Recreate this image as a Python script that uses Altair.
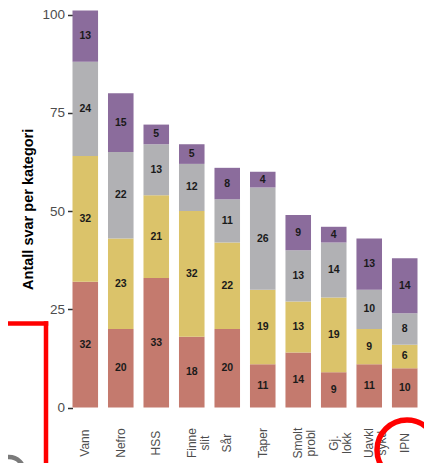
import altair as alt
import pandas as pd

categories = ["Vann", "Nefro", "HSS", "Finne\nslit", "Sår", "Taper",
              "Smolt\nprobl", "Gj.\nlokk", "Uavkl\nsykd", "IPN"]
series = ["Serie 1", "Serie 2", "Serie 3", "Serie 4"]
s1 = [32, 20, 33, 18, 20, 11, 14, 9, 11, 10]
s2 = [32, 23, 21, 32, 22, 19, 13, 19, 9, 6]
s3 = [24, 22, 13, 12, 11, 26, 13, 14, 10, 8]
s4 = [13, 15, 5, 5, 8, 4, 9, 4, 13, 14]
colors = ["#c47a6e", "#dbc36a", "#b1b1b4", "#8b6c9c"]
y_ticks = [0, 25, 50, 75, 100]

rows = []
for k, (name, vals) in enumerate(zip(series, [s1, s2, s3, s4])):
    for c, v in zip(categories, vals):
        rows.append({"cat": c, "series": name, "value": v, "ord": k})
df = pd.DataFrame(rows)

FONT = "Liberation Sans"

x_enc = alt.X(
    "cat:N", sort=categories, title=None,
    scale=alt.Scale(paddingInner=0.28, paddingOuter=0),
    axis=alt.Axis(labelAngle=270, labelAlign="center", labelBaseline="middle",
                  labelPadding=35, ticks=False, domain=False,
                  labelExpr="split(datum.label, '\\n')",
                  labelFont=FONT, labelFontSize=12, labelColor="#4d4d4d",
                  labelLineHeight=13),
)
y_scale = alt.Scale(domain=[0, 101.15], nice=False)

base = alt.Chart(df)
bars = base.mark_bar().encode(
    x=x_enc,
    y=alt.Y("value:Q", stack="zero", scale=y_scale,
            title="Antall svar per kategori",
            axis=alt.Axis(values=y_ticks, grid=False, domain=False,
                          tickColor="#333333", tickSize=5, tickWidth=1.5,
                          labelFont=FONT, labelFontSize=13.5, labelColor="#4d4d4d",
                          labelPadding=3,
                          titleFont=FONT, titleFontSize=14.5, titleFontWeight="bold",
                          titleColor="#000000", titlePadding=6)),
    color=alt.Color("series:N", scale=alt.Scale(domain=series, range=colors), legend=None),
    order=alt.Order("ord:Q"),
)

labels = base.transform_window(
    cum="sum(value)", groupby=["cat"], sort=[alt.SortField("ord")], frame=[None, 0]
).transform_calculate(
    mid="datum.cum - datum.value / 2"
).mark_text(font=FONT, fontSize=10.5, fontWeight="bold", color="#1a1a1a").encode(
    x=alt.X("cat:N", sort=categories),
    y=alt.Y("mid:Q", scale=y_scale),
    text="value:Q",
)

ann = alt.Chart(pd.DataFrame({"a": [0]}))
red_h = ann.mark_rule(color="#ff0000", strokeWidth=4.5, strokeCap="square").encode(
    x=alt.value(-80), x2=alt.value(-26.5), y=alt.value(313.5))
red_v = ann.mark_rule(color="#ff0000", strokeWidth=4.5, strokeCap="square").encode(
    x=alt.value(-26.5), y=alt.value(313.5), y2=alt.value(470))
red_circle = ann.mark_point(shape="circle", filled=False, color="#ff0000",
                            strokeWidth=5.5, opacity=1).encode(
    x=alt.value(334.5), y=alt.value(440), size=alt.value(3600))
gray_ring = ann.mark_point(shape="circle", filled=False, color="#7a7a7a",
                           strokeWidth=4.5, opacity=1).encode(
    x=alt.value(-63.5), y=alt.value(462), size=alt.value(900))

chart = alt.layer(bars, labels, red_h, red_v, red_circle, gray_ring).properties(
    width=345, height=397.6,
    autosize=alt.AutoSizeParams(type="none"),
    padding={"left": 64.5, "top": 2, "right": 6.5, "bottom": 55.4},
).configure_view(stroke=None)

chart.save("out.html", embed_options={"renderer": "svg", "actions": False})
